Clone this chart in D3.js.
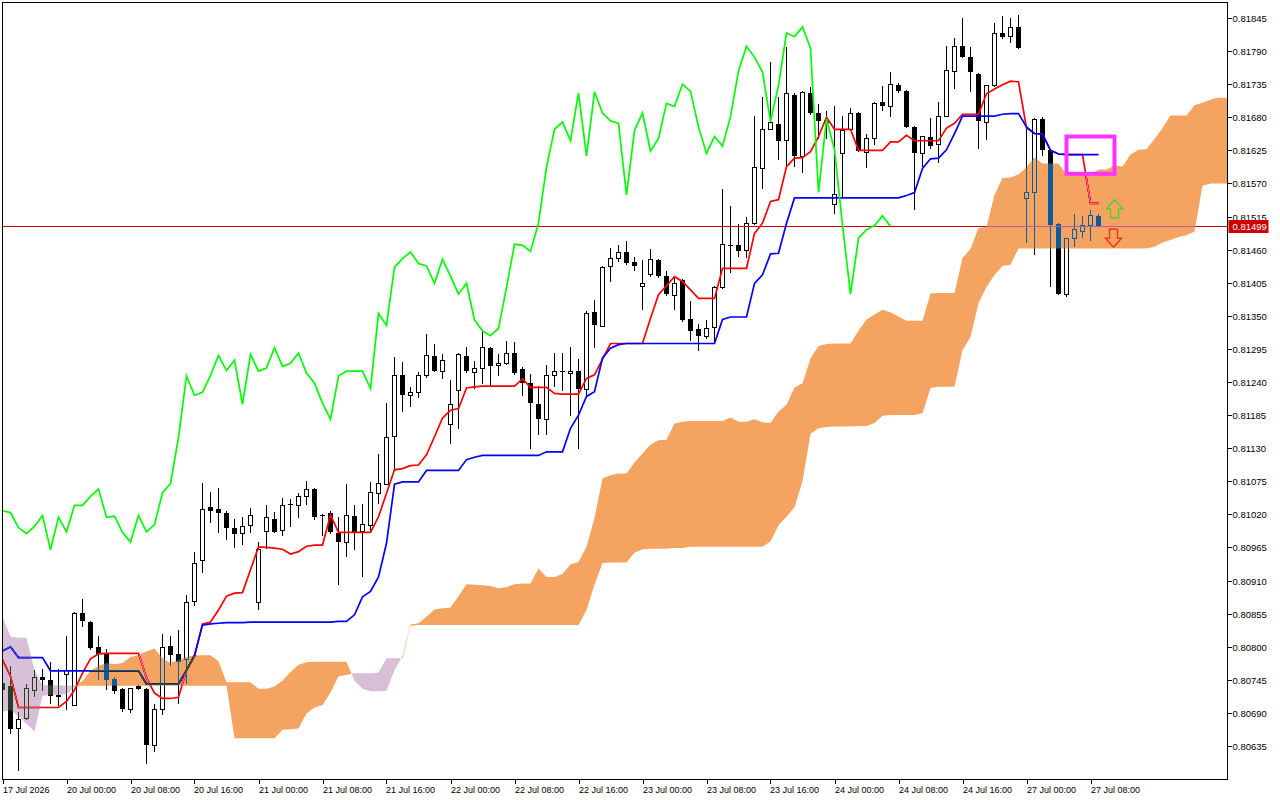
<!DOCTYPE html>
<html><head><meta charset="utf-8">
<script src="https://cdn.jsdelivr.net/npm/d3@7"></script>
<style>
html,body{margin:0;padding:0;background:#fff;}
svg{display:block;}
text{font-family:"Liberation Sans",Arial,sans-serif;fill:#000;}
</style></head><body>
<svg id="chart" width="1280" height="800"></svg>
<script>
// ---------- DATA (H1 bars, 17 Jul 16:00 .. 27 Jul 09:00) ----------
const open = [0.80740,0.80734,0.80664,0.80681,0.80728,0.80749,0.80745,0.80719,0.80754,0.80703,
0.80856,0.80841,0.80799,0.80788,0.80746,0.80730,0.80696,0.80735,0.80730,0.80636,
0.80696,0.80801,0.80788,0.80778,0.80876,0.80944,0.81032,0.81029,0.81023,0.80998,
0.80988,0.81002,0.80874,0.80992,0.81013,0.80994,0.81037,0.81035,0.81050,0.81062,
0.81019,0.81022,0.80989,0.80974,0.81018,0.80991,0.81002,0.81055,0.81070,0.81150,
0.81251,0.81218,0.81222,0.81250,0.81283,0.81258,0.81170,0.81226,0.81284,0.81256,
0.81263,0.81297,0.81268,0.81271,0.81288,0.81261,0.81238,0.81203,0.81178,0.81251,
0.81257,0.81254,0.81258,0.81228,0.81356,0.81333,0.81432,0.81445,0.81456,0.81439,
0.81398,0.81419,0.81443,0.81417,0.81383,0.81410,0.81344,0.81328,0.81316,0.81331,
0.81397,0.81468,0.81467,0.81459,0.81503,0.81595,0.81660,0.81669,0.81641,0.81717,
0.81614,0.81720,0.81687,0.81675,0.81535,0.81620,0.81659,0.81687,0.81621,0.81645,
0.81705,0.81698,0.81733,0.81724,0.81664,0.81620,0.81648,0.81634,0.81682,0.81756,
0.81798,0.81780,0.81752,0.81672,0.81733,0.81820,0.81815,0.81830,0.81545,0.81555,
0.81677,0.81626,0.81503,0.81385,0.81479,0.81490,0.81500,0.81516];
const high = [0.80751,0.80768,0.80692,0.80738,0.80761,0.80763,0.80775,0.80763,0.80818,0.80857,
0.80879,0.80842,0.80817,0.80796,0.80749,0.80731,0.80732,0.80736,0.80731,0.80705,
0.80821,0.80817,0.80828,0.80886,0.80958,0.81072,0.81057,0.81064,0.81025,0.81013,
0.81015,0.81031,0.80974,0.81036,0.81024,0.81047,0.81045,0.81055,0.81076,0.81063,
0.81020,0.81025,0.81015,0.81070,0.81036,0.81038,0.81073,0.81121,0.81205,0.81282,
0.81273,0.81231,0.81256,0.81319,0.81303,0.81287,0.81243,0.81288,0.81298,0.81275,
0.81324,0.81298,0.81286,0.81308,0.81306,0.81265,0.81254,0.81233,0.81268,0.81288,
0.81288,0.81299,0.81279,0.81358,0.81376,0.81432,0.81462,0.81468,0.81475,0.81447,
0.81442,0.81461,0.81445,0.81425,0.81415,0.81412,0.81375,0.81336,0.81343,0.81400,
0.81560,0.81533,0.81503,0.81515,0.81682,0.81714,0.81772,0.81714,0.81797,0.81721,
0.81723,0.81730,0.81702,0.81691,0.81699,0.81682,0.81695,0.81688,0.81653,0.81705,
0.81732,0.81756,0.81737,0.81725,0.81666,0.81649,0.81678,0.81705,0.81798,0.81811,
0.81845,0.81796,0.81753,0.81734,0.81836,0.81848,0.81845,0.81850,0.81662,0.81678,
0.81681,0.81627,0.81504,0.81480,0.81520,0.81516,0.81526,0.81519];
const low = [0.80712,0.80655,0.80595,0.80679,0.80717,0.80728,0.80706,0.80703,0.80695,0.80702,
0.80833,0.80795,0.80745,0.80729,0.80723,0.80692,0.80690,0.80729,0.80606,0.80626,
0.80687,0.80768,0.80706,0.80739,0.80868,0.80923,0.81006,0.80990,0.80979,0.80965,
0.80970,0.80990,0.80862,0.80964,0.80990,0.80985,0.81000,0.81015,0.81037,0.81012,
0.80985,0.80989,0.80904,0.80950,0.80962,0.80916,0.80994,0.81038,0.81069,0.81094,
0.81191,0.81199,0.81215,0.81248,0.81257,0.81246,0.81138,0.81162,0.81256,0.81230,
0.81237,0.81235,0.81250,0.81269,0.81253,0.81217,0.81130,0.81153,0.81153,0.81233,
0.81226,0.81184,0.81130,0.81216,0.81298,0.81332,0.81407,0.81440,0.81436,0.81425,
0.81360,0.81416,0.81414,0.81383,0.81360,0.81340,0.81309,0.81293,0.81313,0.81304,
0.81396,0.81422,0.81448,0.81447,0.81502,0.81562,0.81659,0.81610,0.81599,0.81598,
0.81588,0.81685,0.81645,0.81645,0.81520,0.81545,0.81658,0.81623,0.81597,0.81634,
0.81692,0.81682,0.81721,0.81663,0.81526,0.81598,0.81628,0.81605,0.81681,0.81728,
0.81779,0.81723,0.81628,0.81643,0.81731,0.81811,0.81805,0.81794,0.81472,0.81452,
0.81617,0.81398,0.81385,0.81382,0.81465,0.81481,0.81476,0.81499];
const close = [0.80728,0.80664,0.80679,0.80730,0.80749,0.80744,0.80718,0.80717,0.80760,0.80856,
0.80842,0.80798,0.80788,0.80745,0.80727,0.80696,0.80731,0.80730,0.80636,0.80695,
0.80799,0.80786,0.80774,0.80874,0.80939,0.81028,0.81026,0.81023,0.80998,0.80988,
0.81000,0.81018,0.80961,0.81015,0.80991,0.81035,0.81035,0.81050,0.81062,0.81015,
0.81017,0.80990,0.80974,0.81018,0.80991,0.81003,0.81056,0.81071,0.81148,0.81250,
0.81218,0.81223,0.81251,0.81284,0.81259,0.81276,0.81203,0.81286,0.81258,0.81263,
0.81297,0.81266,0.81271,0.81288,0.81255,0.81238,0.81205,0.81178,0.81250,0.81258,
0.81258,0.81258,0.81229,0.81354,0.81334,0.81431,0.81445,0.81456,0.81437,0.81433,
0.81404,0.81444,0.81416,0.81386,0.81404,0.81343,0.81325,0.81317,0.81329,0.81397,
0.81469,0.81467,0.81457,0.81504,0.81597,0.81660,0.81672,0.81641,0.81720,0.81616,
0.81722,0.81687,0.81674,0.81670,0.81551,0.81658,0.81687,0.81624,0.81645,0.81703,
0.81698,0.81735,0.81723,0.81664,0.81620,0.81648,0.81632,0.81681,0.81757,0.81798,
0.81780,0.81755,0.81673,0.81733,0.81820,0.81814,0.81830,0.81795,0.81555,0.81677,
0.81626,0.81501,0.81386,0.81479,0.81493,0.81500,0.81516,0.81499];
const tenkan = [0.80778,0.80751,0.80699,0.80699,0.80699,0.80699,0.80699,0.80699,0.80709,0.80728,
0.80756,0.80780,0.80788,0.80789,0.80789,0.80789,0.80789,0.80789,0.80748,0.80723,
0.80714,0.80714,0.80716,0.80761,0.80784,0.80838,0.80841,0.80861,0.80884,0.80889,
0.80890,0.80928,0.80966,0.80965,0.80964,0.80962,0.80954,0.80958,0.80967,0.80969,
0.80969,0.81019,0.80990,0.80990,0.80990,0.80990,0.80990,0.81016,0.81055,0.81094,
0.81096,0.81101,0.81102,0.81119,0.81149,0.81180,0.81193,0.81196,0.81230,0.81232,
0.81233,0.81233,0.81233,0.81233,0.81233,0.81245,0.81231,0.81231,0.81231,0.81221,
0.81220,0.81220,0.81220,0.81246,0.81252,0.81278,0.81304,0.81304,0.81304,0.81304,
0.81304,0.81346,0.81385,0.81400,0.81415,0.81407,0.81393,0.81379,0.81379,0.81379,
0.81429,0.81429,0.81429,0.81429,0.81487,0.81504,0.81540,0.81543,0.81598,0.81612,
0.81613,0.81623,0.81648,0.81680,0.81660,0.81660,0.81660,0.81625,0.81625,0.81625,
0.81625,0.81639,0.81639,0.81650,0.81641,0.81641,0.81641,0.81641,0.81662,0.81670,
0.81685,0.81685,0.81685,0.81719,0.81727,0.81734,0.81740,0.81739,0.81662,0.81653,
0.81652,0.81625,0.81619,0.81618,0.81618,0.81618,0.81537,0.81537];
const kijun = [0.80793,0.80800,0.80782,0.80782,0.80782,0.80782,0.80760,0.80760,0.80760,0.80760,
0.80760,0.80760,0.80760,0.80760,0.80760,0.80760,0.80760,0.80760,0.80738,0.80738,
0.80738,0.80738,0.80738,0.80761,0.80786,0.80836,0.80838,0.80839,0.80840,0.80840,
0.80840,0.80841,0.80841,0.80841,0.80841,0.80841,0.80841,0.80841,0.80841,0.80841,
0.80841,0.80841,0.80842,0.80842,0.80853,0.80883,0.80892,0.80916,0.80972,0.81070,
0.81074,0.81074,0.81074,0.81093,0.81093,0.81093,0.81093,0.81093,0.81111,0.81115,
0.81118,0.81118,0.81118,0.81118,0.81118,0.81118,0.81118,0.81118,0.81124,0.81124,
0.81124,0.81163,0.81185,0.81216,0.81224,0.81280,0.81296,0.81302,0.81304,0.81304,
0.81304,0.81304,0.81304,0.81304,0.81304,0.81304,0.81304,0.81304,0.81304,0.81304,
0.81344,0.81348,0.81348,0.81348,0.81404,0.81418,0.81453,0.81454,0.81504,0.81546,
0.81546,0.81546,0.81546,0.81546,0.81546,0.81546,0.81546,0.81546,0.81546,0.81546,
0.81546,0.81546,0.81546,0.81550,0.81555,0.81595,0.81611,0.81612,0.81626,0.81653,
0.81682,0.81682,0.81682,0.81682,0.81682,0.81685,0.81686,0.81686,0.81664,0.81653,
0.81652,0.81625,0.81619,0.81618,0.81618,0.81618,0.81618,0.81618];
// Chikou Span: plotted 26 bars back, starting at bar 0
const chikou = [0.81026,0.81023,0.80998,0.80988,0.81000,0.81018,0.80961,0.81015,0.80991,0.81035,
0.81035,0.81050,0.81062,0.81015,0.81017,0.80990,0.80974,0.81018,0.80991,0.81003,
0.81056,0.81071,0.81148,0.81250,0.81218,0.81223,0.81251,0.81284,0.81259,0.81276,
0.81203,0.81286,0.81258,0.81263,0.81297,0.81266,0.81271,0.81288,0.81255,0.81238,
0.81205,0.81178,0.81250,0.81258,0.81258,0.81258,0.81229,0.81354,0.81334,0.81431,
0.81445,0.81456,0.81437,0.81433,0.81404,0.81444,0.81416,0.81386,0.81404,0.81343,
0.81325,0.81317,0.81329,0.81397,0.81469,0.81467,0.81457,0.81504,0.81597,0.81660,
0.81672,0.81641,0.81720,0.81616,0.81722,0.81687,0.81674,0.81670,0.81551,0.81658,
0.81687,0.81624,0.81645,0.81703,0.81698,0.81735,0.81723,0.81664,0.81620,0.81648,
0.81632,0.81681,0.81757,0.81798,0.81780,0.81755,0.81673,0.81733,0.81820,0.81814,
0.81830,0.81795,0.81555,0.81677,0.81626,0.81501,0.81386,0.81479,0.81493,0.81500,
0.81516,0.81499];
// Senkou spans (already shifted 26 bars forward), bars 0..154
const spanA = [0.80692,0.80695,0.80685,0.80672,0.80659,0.80718,0.80720,0.80720,0.80721,0.80733,
0.80743,0.80760,0.80768,0.80773,0.80771,0.80773,0.80783,0.80786,0.80792,0.80797,
0.80781,0.80773,0.80778,0.80783,0.80786,0.80786,0.80786,0.80776,0.80741,0.80741,
0.80741,0.80741,0.80730,0.80730,0.80734,0.80744,0.80758,0.80770,0.80774,0.80775,
0.80775,0.80775,0.80775,0.80775,0.80743,0.80730,0.80726,0.80726,0.80727,0.80761,
0.80785,0.80837,0.80839,0.80850,0.80862,0.80864,0.80865,0.80884,0.80904,0.80903,
0.80902,0.80901,0.80897,0.80899,0.80904,0.80905,0.80905,0.80930,0.80916,0.80916,
0.80921,0.80937,0.80941,0.80966,0.81014,0.81080,0.81085,0.81088,0.81088,0.81106,
0.81121,0.81136,0.81143,0.81144,0.81171,0.81174,0.81175,0.81175,0.81175,0.81175,
0.81175,0.81181,0.81174,0.81174,0.81178,0.81173,0.81172,0.81191,0.81202,0.81231,
0.81238,0.81279,0.81300,0.81303,0.81304,0.81304,0.81304,0.81325,0.81344,0.81352,
0.81360,0.81356,0.81349,0.81342,0.81342,0.81342,0.81387,0.81388,0.81388,0.81388,
0.81446,0.81461,0.81496,0.81498,0.81551,0.81579,0.81580,0.81585,0.81597,0.81613,
0.81603,0.81603,0.81603,0.81585,0.81585,0.81585,0.81585,0.81593,0.81593,0.81600,
0.81598,0.81618,0.81626,0.81627,0.81644,0.81662,0.81683,0.81683,0.81683,0.81700,
0.81704,0.81709,0.81713,0.81712,0.81663];
const spanB = [0.80850,0.80817,0.80815,0.80815,0.80761,0.80736,0.80736,0.80736,0.80735,0.80735,
0.80735,0.80735,0.80735,0.80735,0.80735,0.80735,0.80735,0.80735,0.80735,0.80735,
0.80735,0.80735,0.80735,0.80735,0.80735,0.80735,0.80735,0.80735,0.80735,0.80648,
0.80648,0.80648,0.80648,0.80648,0.80648,0.80662,0.80663,0.80664,0.80689,0.80699,
0.80703,0.80724,0.80751,0.80753,0.80756,0.80756,0.80756,0.80757,0.80781,0.80781,
0.80781,0.80835,0.80836,0.80836,0.80836,0.80836,0.80836,0.80836,0.80836,0.80836,
0.80836,0.80836,0.80836,0.80836,0.80836,0.80836,0.80836,0.80836,0.80836,0.80836,
0.80836,0.80836,0.80836,0.80861,0.80903,0.80939,0.80940,0.80940,0.80940,0.80956,
0.80962,0.80963,0.80963,0.80963,0.80964,0.80964,0.80966,0.80966,0.80966,0.80966,
0.80966,0.80966,0.80966,0.80966,0.80966,0.80966,0.80975,0.81002,0.81016,0.81032,
0.81075,0.81154,0.81163,0.81165,0.81166,0.81166,0.81166,0.81167,0.81167,0.81172,
0.81184,0.81185,0.81185,0.81185,0.81185,0.81188,0.81230,0.81232,0.81232,0.81232,
0.81293,0.81315,0.81371,0.81398,0.81418,0.81433,0.81435,0.81462,0.81462,0.81462,
0.81462,0.81462,0.81462,0.81462,0.81462,0.81462,0.81462,0.81462,0.81462,0.81462,
0.81462,0.81462,0.81462,0.81462,0.81465,0.81472,0.81476,0.81481,0.81484,0.81490,
0.81566,0.81570,0.81570,0.81570,0.81570];
const timeLabelBars = [0,8,16,24,32,40,48,56,64,72,80,88,96,104,112,120,128,136];
const timeLabels = ["17 Jul 2026","20 Jul 00:00","20 Jul 08:00","20 Jul 16:00","21 Jul 00:00","21 Jul 08:00",
"21 Jul 16:00","22 Jul 00:00","22 Jul 08:00","22 Jul 16:00","23 Jul 00:00","23 Jul 08:00","23 Jul 16:00",
"24 Jul 00:00","24 Jul 08:00","24 Jul 16:00","27 Jul 00:00","27 Jul 08:00"];
const priceTicks = [0.81845,0.81790,0.81735,0.81680,0.81625,0.81570,0.81515,0.81460,0.81405,0.81350,0.81295,
0.81240,0.81185,0.81130,0.81075,0.81020,0.80965,0.80910,0.80855,0.80800,0.80745,0.80690,0.80635];
const lastPrice = 0.81499;
// chart objects drawn by the user (bar index / price anchored)
const boxObj = {i0:133, i1:139, pTop:0.81648, pBot:0.81586};
const arrowUp = {i:139, p:0.81543};
const arrowDown = {i:139, p:0.81494};

// ---------- LAYOUT ----------
const L=2.5, R=1227.5, T=2.5, B=779.5;
const svg = d3.select('#chart');
svg.append('rect').attr('width',1280).attr('height',800).attr('fill','#fff');
const x = d3.scaleLinear().domain([0,153]).range([2.5,1226.5]);
const y = d3.scaleLinear().domain([0.80635,0.81845]).range([746,18]);

svg.append('clipPath').attr('id','plot').append('rect')
  .attr('x',L).attr('y',T).attr('width',R-L).attr('height',B-T);
const plot = svg.append('g').attr('clip-path','url(#plot)').style('isolation','isolate');
plot.append('rect').attr('x',0).attr('y',0).attr('width',1280).attr('height',800).attr('fill','#fff');

// candles
const bars = d3.range(open.length).map(i=>({i,o:open[i],h:high[i],l:low[i],c:close[i]}));
const gC = plot.append('g').attr('shape-rendering','crispEdges');
gC.selectAll('line').data(bars).join('line')
  .attr('x1',d=>x(d.i)).attr('x2',d=>x(d.i))
  .attr('y1',d=>y(d.h)).attr('y2',d=>y(d.l)+0.5)
  .attr('stroke','#000').attr('stroke-width',1);
gC.selectAll('rect').data(bars).join('rect')
  .each(function(d){
    const yo=y(d.o), yc=y(d.c), sel=d3.select(this);
    const hgt=Math.abs(yo-yc);
    if (hgt<1.6){
      sel.attr('x',x(d.i)-2.5).attr('width',5).attr('y',Math.min(yo,yc)).attr('height',1.2).attr('fill','#000');
    } else if (d.c>=d.o){
      sel.attr('x',x(d.i)-2).attr('width',4).attr('y',yc).attr('height',hgt).attr('fill','#fff').attr('stroke','#000').attr('stroke-width',1);
    } else {
      sel.attr('x',x(d.i)-2.5).attr('width',5).attr('y',yo).attr('height',hgt).attr('fill','#000');
    }
  });

// bid price line
plot.append('line').attr('x1',L).attr('x2',R).attr('y1',Math.round(y(lastPrice))+0.5).attr('y2',Math.round(y(lastPrice))+0.5)
  .attr('stroke','#c80000').attr('stroke-width',1);

// ichimoku lines
const line = d3.line().x((d,i)=>x(i)).y(d=>y(d));
plot.append('path').attr('d',line(tenkan)).attr('fill','none').attr('stroke','#ff0000').attr('stroke-width',1.7);
plot.append('path').attr('d',line(kijun)).attr('fill','none').attr('stroke','#0000ff').attr('stroke-width',1.7);
plot.append('path').attr('d',line(chikou)).attr('fill','none').attr('stroke','#00ff00').attr('stroke-width',1.7);

// kumo (drawn with XOR-like difference blending, as the terminal does)
const bull=[], bear=[];
let cur=null, sgn=0;
for (let i=0;i<spanA.length;i++){
  const d=spanA[i]-spanB[i], s=d>=0?1:-1;
  if (cur===null){cur=[{i,a:spanA[i],b:spanB[i]}];sgn=s;continue;}
  if (s!==sgn){
    const dp=spanA[i-1]-spanB[i-1], t=dp/(dp-d);
    const ci=i-1+t, cv=spanA[i-1]+t*(spanA[i]-spanA[i-1]);
    cur.push({i:ci,a:cv,b:cv});
    (sgn>0?bull:bear).push(cur);
    cur=[{i:ci,a:cv,b:cv},{i,a:spanA[i],b:spanB[i]}]; sgn=s;
  } else cur.push({i,a:spanA[i],b:spanB[i]});
}
(sgn>0?bull:bear).push(cur);
const area = d3.area().x(d=>x(d.i)).y0(d=>y(d.b)).y1(d=>y(d.a));
const gK = plot.append('g');
bull.forEach(seg=>gK.append('path').attr('d',area(seg)).attr('fill','rgb(11,91,159)').style('mix-blend-mode','difference'));
bear.forEach(seg=>gK.append('path').attr('d',area(seg)).attr('fill','rgb(39,64,39)').style('mix-blend-mode','difference'));

// user objects
plot.append('rect')
  .attr('x',x(boxObj.i0)).attr('y',y(boxObj.pTop))
  .attr('width',x(boxObj.i1)-x(boxObj.i0)).attr('height',y(boxObj.pBot)-y(boxObj.pTop))
  .attr('fill','none').attr('stroke','#ff33ff').attr('stroke-width',4);
function arrowPath(cx,top,up){
  const w=8, hw=4, hh=9, len=18;
  if (up) return `M${cx},${top} L${cx+w},${top+hh} L${cx+hw},${top+hh} L${cx+hw},${top+len} L${cx-hw},${top+len} L${cx-hw},${top+hh} L${cx-w},${top+hh} Z`;
  return `M${cx-hw},${top} L${cx+hw},${top} L${cx+hw},${top+len-hh} L${cx+w},${top+len-hh} L${cx},${top+len} L${cx-w},${top+len-hh} L${cx-hw},${top+len-hh} Z`;
}
plot.append('path').attr('d',arrowPath(x(arrowUp.i),y(arrowUp.p),true)).attr('fill','none').attr('stroke','#5ccc2a').attr('stroke-width',1.5);
plot.append('path').attr('d',arrowPath(x(arrowDown.i)-1,y(arrowDown.p),false)).attr('fill','none').attr('stroke','#f03a1a').attr('stroke-width',1.5);

// frame
svg.append('rect').attr('x',L).attr('y',T).attr('width',R-L).attr('height',B-T)
  .attr('fill','none').attr('stroke','#000').attr('stroke-width',1).attr('shape-rendering','crispEdges');

// price axis
const gY = svg.append('g').attr('shape-rendering','crispEdges');
priceTicks.forEach(p=>{
  const yy=Math.round(y(p))+0.5;
  gY.append('line').attr('x1',R).attr('x2',R+4).attr('y1',yy).attr('y2',yy).attr('stroke','#000');
  gY.append('text').attr('x',R+5).attr('y',yy+3.5).attr('font-size','9.5px').text(p.toFixed(5));
});
// last price label
const ly=Math.round(y(lastPrice));
svg.append('rect').attr('x',R+1).attr('y',ly-6).attr('width',40).attr('height',13).attr('fill','#cc0000');
svg.append('text').attr('x',R+5).attr('y',ly+4).attr('font-size','9.5px').style('fill','#fff').text(lastPrice.toFixed(5));

// time axis
const gX = svg.append('g');
timeLabelBars.forEach((b,k)=>{
  const xx=Math.round(x(b))+0.5;
  gX.append('line').attr('x1',xx).attr('x2',xx).attr('y1',B).attr('y2',B+4).attr('stroke','#000').attr('shape-rendering','crispEdges');
  gX.append('text').attr('x',xx-0.5).attr('y',B+13).attr('font-size','9px').text(timeLabels[k]);
});
</script>
</body></html>
